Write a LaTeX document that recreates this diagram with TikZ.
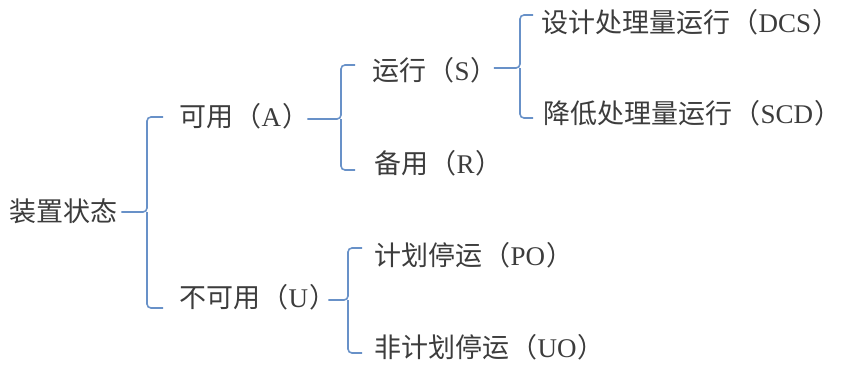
\documentclass[tikz,border=0pt]{standalone}
\usepackage{fontspec}
\setmainfont{Liberation Serif}
\newfontfamily\cjk{Noto Sans CJK SC}
\newcommand{\zh}[1]{{\cjk #1}}
\newcommand{\lp}{\hspace{1.5pt}{\cjk （}}
\newcommand{\rp}{\hspace{1pt}\makebox[0.55em][l]{\cjk ）}}
\definecolor{txtc}{RGB}{60,60,60}
\definecolor{brc}{RGB}{104,145,200}
\tikzset{
  lbl/.style={anchor=west, inner sep=0pt, text=txtc, font=\fontsize{27}{27}\selectfont},
  br/.style={draw=brc, line width=1.6pt, rounded corners=4pt}
}
\begin{document}
\begin{tikzpicture}[x=1pt,y=-1pt]
\useasboundingbox (0,0) rectangle (841,365);
% nodes
\node[lbl] (root) at (9,211) {\zh{装置状态}};
\node[lbl] (A) at (179,116) {\zh{可用}\lp A\rp};
\node[lbl] (U) at (179,297) {\zh{不可用}\lp U\rp};
\node[lbl] (S) at (372,70) {\zh{运行}\lp S\rp};
\node[lbl] (R) at (374,163) {\zh{备用}\lp R\rp};
\node[lbl] (DCS) at (541,22) {\zh{设计处理量运行}\lp DCS\rp};
\node[lbl] (SCD) at (543,113) {\zh{降低处理量运行}\lp SCD\rp};
\node[lbl] (PO) at (374,255) {\zh{计划停运}\lp PO\rp};
\node[lbl] (UO) at (374,347) {\zh{非计划停运}\lp UO\rp};
% bracket coordinates
\coordinate (b1t) at (163,117); \coordinate (b1b) at (163,308); \coordinate (b1m) at (147,212);
\coordinate (b2t) at (355,65);  \coordinate (b2b) at (355,170); \coordinate (b2m) at (341,119);
\coordinate (b3t) at (533,15);  \coordinate (b3b) at (533,118); \coordinate (b3m) at (520,68);
\coordinate (b4t) at (362,248); \coordinate (b4b) at (362,353); \coordinate (b4m) at (348,300);
% brackets
\draw[br] (b1t) -| (b1m) -- ([xshift=4pt]root.east |- b1m);
\draw[br] (b1b) -| (b1m);
\draw[br] (b2t) -| (b2m) -- ([xshift=10pt]A.east |- b2m);
\draw[br] (b2b) -| (b2m);
\draw[br] (b3t) -| (b3m) -- ([xshift=8pt]S.east |- b3m);
\draw[br] (b3b) -| (b3m);
\draw[br] (b4t) -| (b4m) -- ([xshift=4pt]U.east |- b4m);
\draw[br] (b4b) -| (b4m);
\end{tikzpicture}
\end{document}
